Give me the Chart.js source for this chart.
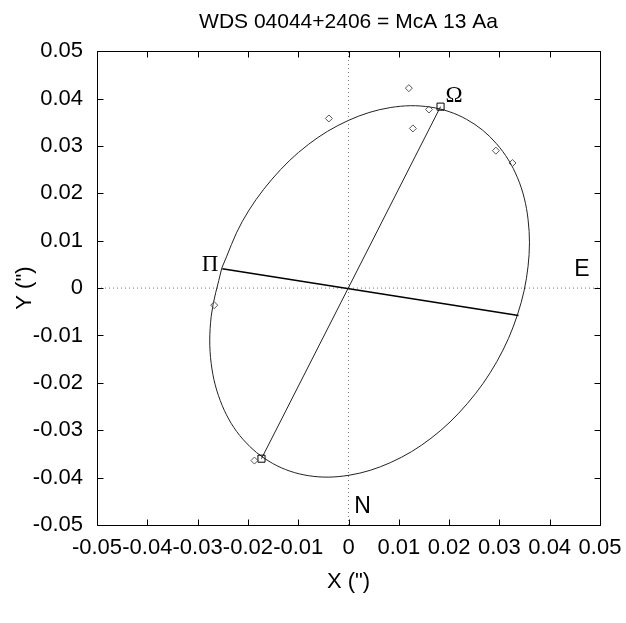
<!DOCTYPE html>
<html>
<head>
<meta charset="utf-8">
<title>WDS 04044+2406 = McA 13 Aa</title>
<script src="https://cdn.jsdelivr.net/npm/chart.js@4.4.1/dist/chart.umd.min.js"></script>
<style>
    html, body { margin: 0; padding: 0; background: #fff; }
    #wrap { width: 626px; height: 623px; }
</style>
</head>
<body>
<div id="wrap"><canvas id="orbitChart"></canvas></div>
<script>
// --- DATA (arcsec) ---
// apparent orbit, every ~15 deg around the ellipse
const orbitX = [-0.0252, -0.0211, -0.0152, -0.0080, 0.0000, 0.0083, 0.0163, 0.0235, 0.0294, 0.0336, 0.0357, 0.0357,
                0.0336, 0.0295, 0.0236, 0.0164, 0.0084, 0.0001, -0.0079, -0.0151, -0.0210, -0.0251, -0.0273, -0.0273, -0.0252];
const orbitY = [0.0042, 0.0141, 0.0230, 0.0303, 0.0354, 0.0381, 0.0382, 0.0356, 0.0305, 0.0233, 0.0145, 0.0046,
                -0.0056, -0.0155, -0.0244, -0.0317, -0.0368, -0.0395, -0.0396, -0.0370, -0.0319, -0.0248, -0.0159, -0.0060, 0.0042];

// measures (diamonds)
const obsX = [0.0120, -0.0039, 0.0128, 0.0160, 0.0293, 0.0326, -0.0267, -0.0187];
const obsY = [0.0422, 0.0358, 0.0337, 0.0377, 0.0290, 0.0264, -0.0036, -0.0364];

// line of nodes (squares at both ends)
const nodeX = [0.0183, -0.0173];
const nodeY = [0.0383, -0.0360];

// periastron - apastron line
const apsX = [-0.0251, 0.0338];
const apsY = [0.0041, -0.0058];

// dotted zero lines
const zeroSpan = [-0.05, 0.05];

const xTickLabels = ['-0.05', '-0.04', '-0.03', '-0.02', '-0.01', '0', '0.01', '0.02', '0.03', '0.04', '0.05'];
const yTickLabels = ['-0.05', '-0.04', '-0.03', '-0.02', '-0.01', '0', '0.01', '0.02', '0.03', '0.04', '0.05'];

// text marks on the plot
const markText = ['\u03A9', '\u03A0', 'E', 'N'];
const markX = [0.0210, -0.0275, 0.0464, 0.0028];
const markY = [0.0405, 0.0048, 0.0038, -0.0462];
const markSerif = [true, true, false, false];

const toPts = (xs, ys) => xs.map((v, i) => ({ x: v, y: ys[i] }));

// frame, inward ticks and the Omega/Pi/E/N labels
const framePlugin = {
    id: 'frame',
    afterDatasetsDraw(chart) {
        const { ctx, chartArea: a, scales: { x, y } } = chart;
        const L = Math.round(a.left) + 0.5, R = Math.round(a.right) + 0.5;
        const T = Math.round(a.top) + 0.5, B = Math.round(a.bottom) + 0.5;
        const tl = 6;
        ctx.save();
        ctx.strokeStyle = '#000';
        ctx.lineWidth = 1;
        ctx.beginPath();
        ctx.rect(L, T, R - L, B - T);
        x.ticks.forEach(t => {
            const px = Math.round(x.getPixelForValue(t.value)) + 0.5;
            ctx.moveTo(px, B); ctx.lineTo(px, B - tl);
            ctx.moveTo(px, T); ctx.lineTo(px, T + tl);
        });
        y.ticks.forEach(t => {
            const py = Math.round(y.getPixelForValue(t.value)) + 0.5;
            ctx.moveTo(L, py); ctx.lineTo(L + tl, py);
            ctx.moveTo(R, py); ctx.lineTo(R - tl, py);
        });
        ctx.stroke();

        ctx.fillStyle = '#000';
        ctx.textAlign = 'center';
        ctx.textBaseline = 'middle';
        markText.forEach((s, i) => {
            ctx.font = markSerif[i] ? '23px "Liberation Serif"' : '23px "Liberation Sans"';
            ctx.fillText(s, x.getPixelForValue(markX[i]), y.getPixelForValue(markY[i]));
        });
        ctx.restore();
    }
};

function initChart() {
    const el = document.getElementById('orbitChart');
    new Chart(el.getContext('2d'), {
        type: 'scatter',
        data: {
            datasets: [
                {   // measures
                    data: toPts(obsX, obsY),
                    pointStyle: 'rectRot',
                    pointRadius: 3.5,
                    borderColor: '#555',
                    backgroundColor: 'rgba(0,0,0,0)',
                    borderWidth: 1
                },
                {   // line of nodes
                    data: toPts(nodeX, nodeY),
                    showLine: true,
                    borderColor: '#222',
                    borderWidth: 1,
                    pointStyle: 'rect',
                    pointRadius: 5,
                    pointBorderColor: '#000',
                    pointBackgroundColor: 'rgba(0,0,0,0)'
                },
                {   // periastron line
                    data: toPts(apsX, apsY),
                    showLine: true,
                    borderColor: '#000',
                    borderWidth: 1.6,
                    pointRadius: 0
                },
                {   // orbit
                    data: toPts(orbitX, orbitY),
                    showLine: true,
                    borderColor: '#222',
                    borderWidth: 1,
                    pointRadius: 0,
                    tension: 0.35
                },
                {   // x = 0
                    data: toPts([0, 0], zeroSpan),
                    showLine: true,
                    borderColor: '#777',
                    borderWidth: 1,
                    borderDash: [1, 3],
                    pointRadius: 0
                },
                {   // y = 0
                    data: toPts(zeroSpan, [0, 0]),
                    showLine: true,
                    borderColor: '#777',
                    borderWidth: 1,
                    borderDash: [1, 3],
                    pointRadius: 0
                }
            ]
        },
        options: {
            responsive: true,
            maintainAspectRatio: false,
            animation: false,
            devicePixelRatio: 1,
            layout: { padding: { left: 0, right: 26, top: 0, bottom: 0 } },
            scales: {
                x: {
                    type: 'linear',
                    min: -0.05,
                    max: 0.05,
                    afterFit: s => { s.height = 98; s.paddingLeft = 0; s.paddingRight = 0; },
                    grid: { display: false, drawTicks: false },
                    border: { display: false },
                    ticks: {
                        stepSize: 0.01,
                        autoSkip: false,
                        maxRotation: 0,
                        minRotation: 0,
                        padding: 10,
                        color: '#000',
                        font: { family: 'Liberation Sans', size: 22 },
                        callback: (v, i) => xTickLabels[i]
                    },
                    title: {
                        display: true,
                        text: 'X (")',
                        color: '#000',
                        font: { family: 'Liberation Sans', size: 22 },
                        padding: { top: 0, bottom: 28 }
                    }
                },
                y: {
                    type: 'linear',
                    min: -0.05,
                    max: 0.05,
                    afterFit: s => { s.width = 97; },
                    grid: { display: false, drawTicks: false },
                    border: { display: false },
                    ticks: {
                        stepSize: 0.01,
                        autoSkip: false,
                        padding: 14,
                        color: '#000',
                        font: { family: 'Liberation Sans', size: 22 },
                        callback: (v, i) => yTickLabels[i]
                    },
                    title: {
                        display: true,
                        text: 'Y (")',
                        color: '#000',
                        font: { family: 'Liberation Sans', size: 22 },
                        padding: { top: 12, bottom: 0 }
                    }
                }
            },
            plugins: {
                legend: { display: false },
                tooltip: { enabled: false },
                title: {
                    display: true,
                    fullSize: false,
                    text: 'WDS 04044+2406 = McA 13 Aa',
                    color: '#000',
                    font: { family: 'Liberation Sans', size: 21, weight: 'normal' },
                    padding: { top: 10, bottom: 16 }
                }
            }
        },
        plugins: [framePlugin]
    });
}

document.addEventListener('DOMContentLoaded', initChart);
</script>
</body>
</html>
